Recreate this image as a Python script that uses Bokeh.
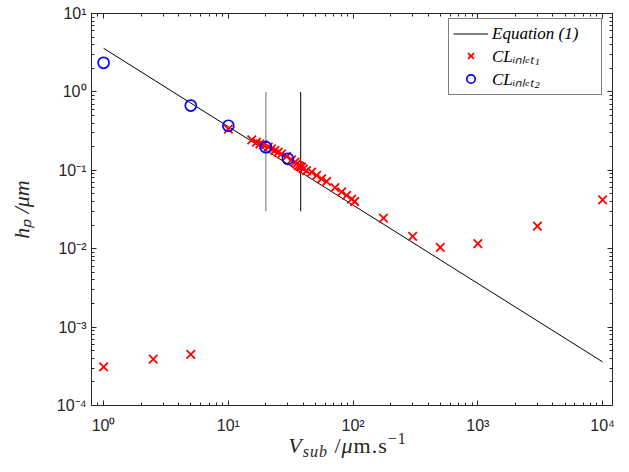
from bokeh.plotting import figure
from bokeh.models import (FixedTicker, LogAxis, CustomJSTickFormatter, Legend, LegendItem, Div)
from bokeh.layouts import column
from bokeh.embed import file_html
from bokeh.resources import INLINE

# ---- data ----
eq_v = [1, 10000]
eq_h = [3.6, 3.6e-4]

vline_v = [20, 38]
vline_h_low = [0.03, 0.03]
vline_h_high = [1.0, 1.0]
vline_colors = ["#6e6e6e", "#000000"]

inlet1_v = [1, 2.5, 5, 10, 15.4, 16.8, 17.9, 19.1, 20.9, 22.2, 23.6, 25.1, 26.7, 29.3,
            32.1, 34.2, 35.3, 36.4, 37.5, 38.6, 39.9, 42.4, 46.5, 51.0, 55.9, 61.3,
            71.5, 80.9, 88.7, 97.3, 103, 175, 300, 500, 1000, 3000, 10000]
inlet1_h = [3.1e-4, 3.9e-4, 4.5e-4, 0.336, 0.245, 0.228, 0.218, 0.211, 0.197, 0.188, 0.179,
            0.170, 0.162, 0.150, 0.136, 0.127, 0.121, 0.115, 0.112, 0.110, 0.104, 0.099,
            0.095, 0.086, 0.078, 0.072, 0.060, 0.053, 0.048, 0.043, 0.040, 0.0245, 0.0144,
            0.0104, 0.0116, 0.0194, 0.042]

inlet2_v = [1, 5, 10, 20, 30]
inlet2_h = [2.35, 0.67, 0.37, 0.197, 0.14]

x_major = [1, 10, 100, 1000, 10000]
y_major = [1e-4, 1e-3, 1e-2, 1e-1, 1, 10]

AX = "#262626"
W = 621

p = figure(width=W, height=436, x_axis_type="log", y_axis_type="log",
           x_range=(0.8, 1.2e4), y_range=(1e-4, 10),
           output_backend="svg", toolbar_location=None,
           min_border_left=91, min_border_right=9, min_border_top=13, min_border_bottom=31)
p.grid.visible = False
p.outline_line_color = AX
p.outline_line_width = 1
p.background_fill_color = "white"
p.border_fill_color = "white"

x_minor = [m * d for d in [0.1, 1, 10, 100, 1000, 10000] for m in range(2, 10)]
y_minor = [m * d for d in [1e-5, 1e-4, 1e-3, 1e-2, 1e-1, 1, 10] for m in range(2, 10)]
xt = FixedTicker(ticks=x_major, minor_ticks=x_minor)
yt = FixedTicker(ticks=y_major, minor_ticks=y_minor)

fmt_code = """
const sup = {"0":"\u2070","1":"\u00b9","2":"\u00b2","3":"\u00b3","4":"\u2074","5":"\u2075","6":"\u2076","7":"\u2077","8":"\u2078","9":"\u2079","-":"\u207b"};
const e = Math.round(Math.log10(tick));
return "10" + String(e).split("").map(c => sup[c]).join("");
"""

def style_axis(ax, labels=True):
    ax.major_tick_in = 5
    ax.major_tick_out = 0
    ax.minor_tick_in = 3
    ax.minor_tick_out = 0
    ax.axis_line_color = AX
    ax.major_tick_line_color = AX
    ax.minor_tick_line_color = AX
    ax.major_label_text_font = "Liberation Sans"
    ax.major_label_text_color = AX
    if labels:
        ax.formatter = CustomJSTickFormatter(code=fmt_code)
        ax.major_label_text_font_size = "16px"
    else:
        ax.formatter = CustomJSTickFormatter(code='return "";')
        ax.major_label_text_font_size = "1px"
        ax.major_label_standoff = 0
        ax.axis_label_standoff = 0

p.xaxis.ticker = xt
p.yaxis.ticker = yt
style_axis(p.xaxis[0])
style_axis(p.yaxis[0])
p.xaxis.major_label_standoff = 11
p.yaxis.major_label_standoff = 5

top_ax = LogAxis(ticker=xt)
right_ax = LogAxis(ticker=yt)
style_axis(top_ax, labels=False)
style_axis(right_ax, labels=False)
p.add_layout(top_ax, "above")
p.add_layout(right_ax, "right")

p.yaxis[0].axis_label = "h\u209a /\u03bcm"
p.yaxis[0].axis_label_text_font = "Liberation Serif"
p.yaxis[0].axis_label_text_font_style = "italic"
p.yaxis[0].axis_label_text_font_size = "22px"
p.yaxis[0].axis_label_text_color = AX
p.yaxis[0].axis_label_standoff = 20

# ---- glyphs ----
eq = p.line(eq_v, eq_h, line_color="black", line_width=1)
for xv, lo, hi, c in zip(vline_v, vline_h_low, vline_h_high, vline_colors):
    p.line([xv, xv], [lo, hi], line_color=c, line_width=1)
r1 = p.scatter(inlet1_v, inlet1_h, marker="x", size=12, line_color="#ff0000", line_width=1.8)
r2 = p.scatter(inlet2_v, inlet2_h, marker="circle", size=11, fill_color=None,
               line_color="#0000ff", line_width=1.7)

legend = Legend(items=[
    LegendItem(label="Equation (1)", renderers=[eq]),
    LegendItem(label="CL\u1d62\u2099\u2097\u2091\u209c\u2081", renderers=[r1]),
    LegendItem(label="CL\u1d62\u2099\u2097\u2091\u209c\u2082", renderers=[r2]),
], location=(357, 310))
legend.label_text_font = "Liberation Serif"
legend.label_text_font_style = "italic"
legend.label_text_font_size = "17px"
legend.label_text_color = "black"
legend.glyph_width = 35
legend.glyph_height = 21
legend.label_height = 21
legend.label_width = 105
legend.label_standoff = 4
legend.padding = 4
legend.spacing = 0
legend.margin = 0
legend.border_line_color = "black"
legend.border_line_width = 1
legend.background_fill_color = "white"
legend.background_fill_alpha = 1
p.add_layout(legend, "center")

# ---- x axis label (V_sub /μm.s^-1) as real HTML text ----
xlabel_html = (
    '<div style="margin-left:82px; width:531px; text-align:center; line-height:20px; '
    'font-family:\'Liberation Serif\', serif; font-size:22px; color:#262626; '
    'white-space:nowrap; letter-spacing:1px;">'
    '<i>V</i><span style="font-size:16px; font-style:italic; vertical-align:-4px; line-height:0;">sub</span>'
    ' /<i>\u03bc</i>m.s<span style="font-size:16px; vertical-align:9px; line-height:0;">\u22121</span>'
    '</div>'
)
xlabel = Div(text=xlabel_html, width=W, height=20, margin=0)

layout = column(p, xlabel, spacing=0)
open("out.html", "w").write(file_html(layout, INLINE))
